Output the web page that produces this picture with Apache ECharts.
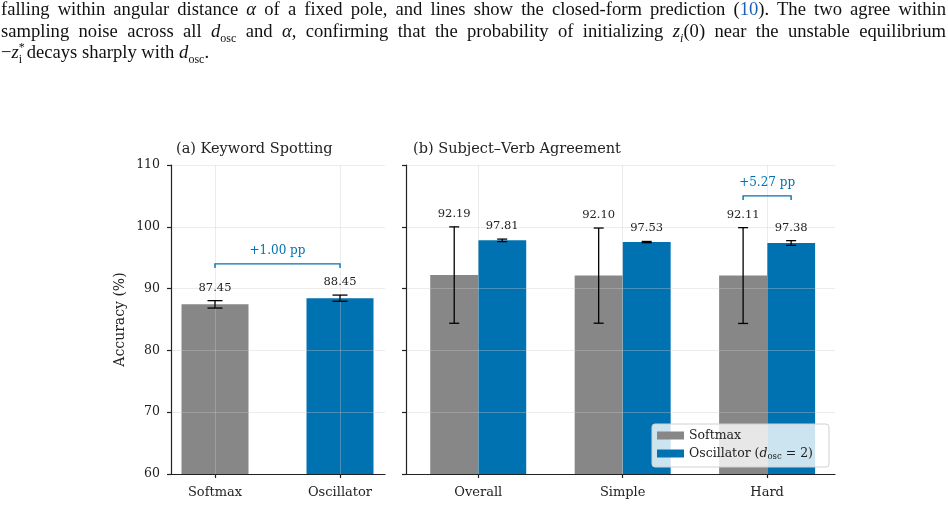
<!DOCTYPE html>
<html>
<head>
<meta charset="utf-8">
<script src="https://cdn.jsdelivr.net/npm/echarts@6/dist/echarts.min.js"></script>
<style>
  html, body { margin: 0; padding: 0; background: #fff; }
  #wrap { position: relative; width: 948px; height: 506px; overflow: hidden; }
  #main { position: absolute; left: 0; top: 0; width: 948px; height: 506px; }
  #caption { position: absolute; left: 1px; top: -2px; width: 945px;
    font-family: "Liberation Serif", serif; font-size: 18.6px; line-height: 21.7px; color: #111; }
  #caption div.j { text-align: justify; text-align-last: justify; white-space: nowrap; }
  #caption i { font-style: italic; }
  #caption sub { font-size: 12px; line-height: 0; }
  #caption sup { font-size: 12px; line-height: 0; }
  .ref { color: #1a5fb4; }
</style>
</head>
<body>
<div id="wrap">
  <div id="main"></div>
  <div id="caption">
    <div class="j">falling within angular distance <i>α</i> of a fixed pole, and lines show the closed-form prediction (<span class="ref">10</span>). The two agree within</div>
    <div class="j">sampling noise across all <i>d</i><sub>osc</sub> and <i>α</i>, confirming that the probability of initializing <i>z<sub>i</sub></i>(0) near the unstable equilibrium</div>
    <div>−<i>z</i><sup>*</sup><sub style="margin-left:-6px">i</sub> decays sharply with <i>d</i><sub>osc</sub>.</div>
  </div>
</div>
<script>
var chart = echarts.init(document.getElementById('main'));

// (a) Keyword Spotting
var catsA = ['Softmax', 'Oscillator'];
var softA = [87.45];
var softErrA = [0.6];
var oscA = [88.45];
var oscErrA = [0.5];
var deltaA = { label: '+1.00 pp', level: 94.0 };

// (b) Subject-Verb Agreement
var catsB = ['Overall', 'Simple', 'Hard'];
var softB = [92.19, 92.10, 92.11];
var softErrB = [7.8, 7.7, 7.75];
var oscB = [97.81, 97.53, 97.38];
var oscErrB = [0.2, 0.1, 0.38];
var deltaB = { index: 2, label: '+5.27 pp', level: 105.0 };

var yTicks = [60, 70, 80, 90, 100, 110];

var GRAY = '#878787';
var BLUE = '#0072B2';
var FONT = 'DejaVu Serif';

function errSeries(axis, xs, means, errs, offset, cap) {
  return {
    type: 'custom',
    xAxisIndex: axis, yAxisIndex: axis,
    z: 6,
    silent: true,
    data: xs.map(function (x, i) { return [x, means[i] - errs[i], means[i] + errs[i], means[i]]; }),
    renderItem: function (params, api) {
      var lo = api.coord([api.value(0), api.value(1)]);
      var hi = api.coord([api.value(0), api.value(2)]);
      var x = lo[0] + offset;
      return {
        type: 'group',
        children: [
          { type: 'line', shape: { x1: x, y1: lo[1], x2: x, y2: hi[1] }, style: { stroke: '#000', lineWidth: 1.3 } },
          { type: 'line', shape: { x1: x - cap / 2, y1: lo[1], x2: x + cap / 2, y2: lo[1] }, style: { stroke: '#000', lineWidth: 1.3 } },
          { type: 'line', shape: { x1: x - cap / 2, y1: hi[1], x2: x + cap / 2, y2: hi[1] }, style: { stroke: '#000', lineWidth: 1.3 } },
          { type: 'text', x: x, y: hi[1] - 7,
            style: { text: api.value(3).toFixed(2), fontFamily: FONT, fontSize: 11.5, fill: '#222', align: 'center', verticalAlign: 'bottom' } }
        ]
      };
    }
  };
}

function bracketSeries(axis, x1, x2, level, label, off1, off2) {
  return {
    type: 'custom',
    xAxisIndex: axis, yAxisIndex: axis,
    z: 6,
    silent: true,
    data: [[x1, x2, level]],
    renderItem: function (params, api) {
      var a = api.coord([api.value(0), api.value(2)]);
      var b = api.coord([api.value(1), api.value(2)]);
      var xa = a[0] + off1, xb = b[0] + off2, y = a[1];
      return {
        type: 'group',
        children: [
          { type: 'polyline', shape: { points: [[xa, y + 4], [xa, y], [xb, y], [xb, y + 4]] },
            style: { stroke: BLUE, lineWidth: 1.4, fill: null } },
          { type: 'text', x: (xa + xb) / 2, y: y - 13,
            style: { text: label, fontFamily: FONT, fontSize: 12, fill: BLUE, align: 'center', verticalAlign: 'middle' } }
        ]
      };
    }
  };
}

var axisLineStyle = { color: '#222', width: 1.2 };
var gridLine = { show: true, lineStyle: { color: 'rgba(200,200,200,0.35)', width: 1 } };

function xAxisFor(idx, cats, min, max) {
  var vals = cats.map(function (c, i) { return i; });
  return {
    type: 'value', gridIndex: idx, min: min, max: max, z: 3,
    axisLine: { show: true, onZero: false, lineStyle: axisLineStyle },
    axisTick: { show: true, length: 4, lineStyle: axisLineStyle, customValues: vals },
    axisLabel: { show: true, customValues: vals, margin: 12, fontFamily: FONT, fontSize: 13, color: '#222',
      formatter: function (v) { return cats[Math.round(v)]; } },
    splitLine: gridLine
  };
}

function yAxisFor(idx, labels) {
  return {
    type: 'value', gridIndex: idx, min: yTicks[0], max: yTicks[yTicks.length - 1], interval: 10, z: 3,
    name: labels ? 'Accuracy (%)' : '', nameLocation: 'middle', nameGap: 44,
    nameTextStyle: { fontFamily: FONT, fontSize: 14, color: '#222' },
    axisLine: { show: true, onZero: false, lineStyle: axisLineStyle },
    axisTick: { show: true, length: 4, lineStyle: axisLineStyle },
    axisLabel: { show: labels, margin: 11, fontFamily: FONT, fontSize: 12.5, color: '#222' },
    splitLine: gridLine
  };
}

var option = {
  animation: false,
  title: [
    { text: '(a) Keyword Spotting', left: 171, top: 137, textStyle: { fontFamily: FONT, fontSize: 14.5, fontWeight: 'normal', color: '#222' } },
    { text: '(b) Subject–Verb Agreement', left: 408, top: 137, textStyle: { fontFamily: FONT, fontSize: 14.5, fontWeight: 'normal', color: '#222' } }
  ],
  grid: [
    { left: 171, top: 165, width: 214, height: 309 },
    { left: 406, top: 165, width: 429, height: 309 }
  ],
  xAxis: [
    xAxisFor(0, catsA, -0.352, 1.36),
    xAxisFor(1, catsB, -0.5, 2.47)
  ],
  yAxis: [yAxisFor(0, true), yAxisFor(1, false)],
  legend: {
    orient: 'vertical', left: 652, top: 424, z: 10,
    padding: [5, 16, 6, 5], itemGap: 5, itemWidth: 27, itemHeight: 8, itemTextGap: 11,
    backgroundColor: 'rgba(255,255,255,0.8)', borderColor: '#d0d0d0', borderWidth: 1, borderRadius: 3,
    icon: 'rect',
    data: ['Softmax', 'Oscillator'],
    textStyle: {
      fontFamily: FONT, fontSize: 12.5, color: '#222',
      rich: {
        n: { fontFamily: FONT, fontSize: 12.5, color: '#222' },
        i: { fontFamily: FONT, fontSize: 12.5, fontStyle: 'italic', color: '#222' },
        s: { fontFamily: FONT, fontSize: 8.5, color: '#222', padding: [6, 0, 0, 0] }
      }
    },
    formatter: function (name) {
      return name === 'Oscillator' ? '{n|Oscillator (}{i|d}{s|osc}{n| = 2)}' : '{n|' + name + '}';
    }
  },
  series: [
    { name: 'Softmax', type: 'bar', xAxisIndex: 0, yAxisIndex: 0, z: 2, barWidth: 67, barGap: '-100%',
      itemStyle: { color: GRAY }, data: softA.map(function (v, i) { return [i, v]; }) },
    { name: 'Oscillator', type: 'bar', xAxisIndex: 0, yAxisIndex: 0, z: 2, barWidth: 67, barGap: '-100%',
      itemStyle: { color: BLUE }, data: oscA.map(function (v, i) { return [i + softA.length, v]; }) },
    { name: 'Softmax', type: 'bar', xAxisIndex: 1, yAxisIndex: 1, z: 2, barWidth: 48, barGap: '0%',
      itemStyle: { color: GRAY }, data: softB.map(function (v, i) { return [i, v]; }) },
    { name: 'Oscillator', type: 'bar', xAxisIndex: 1, yAxisIndex: 1, z: 2, barWidth: 48, barGap: '0%',
      itemStyle: { color: BLUE }, data: oscB.map(function (v, i) { return [i, v]; }) },
    errSeries(0, [0], softA, softErrA, 0, 15),
    errSeries(0, [1], oscA, oscErrA, 0, 15),
    errSeries(1, [0, 1, 2], softB, softErrB, -24, 10),
    errSeries(1, [0, 1, 2], oscB, oscErrB, 24, 10),
    bracketSeries(0, 0, 1, deltaA.level, deltaA.label, 0, 0),
    bracketSeries(1, deltaB.index, deltaB.index, deltaB.level, deltaB.label, -24, 24)
  ]
};

chart.setOption(option);
</script>
</body>
</html>
